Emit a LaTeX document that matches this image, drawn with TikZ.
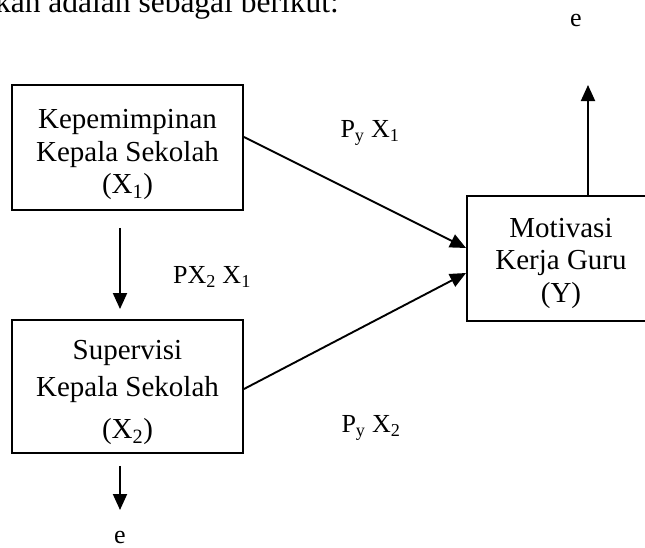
\documentclass[tikz,border=0pt]{standalone}
\usepackage{fontspec}
\setmainfont{Liberation Serif}
\usepackage{xcolor}
\usetikzlibrary{positioning,arrows.meta}

\begin{document}
\begin{tikzpicture}[x=1pt, y=-1pt,
  box/.style={draw, line width=1.9pt, minimum width=231pt, minimum height=125pt, align=center, inner sep=0pt, font=\fontsize{29}{32.5}\selectfont},
  arr/.style={-{Triangle[length=16pt,width=14pt]}, line width=1.9pt},
  lbl/.style={inner sep=0pt, font=\fontsize{26}{30}\selectfont}]
\useasboundingbox (0,0) rectangle (645,547);
\clip (0,0) rectangle (645,547);

\node[anchor=base east, inner sep=0pt, font=\fontsize{31.5}{36}\selectfont] (intro) at (339,12.5) {kan adalah sebagai berikut:};

\node[box] (kepemimpinan) at (127.5,147.5) {\rule{0pt}{34pt}Kepemimpinan\\Kepala Sekolah\\(X\textsubscript{1})};
\node[box, minimum height=133pt] (supervisi) at (127.5,386.5) {\rule{0pt}{32pt}Supervisi\\[4pt]Kepala Sekolah\\[10pt](X\textsubscript{2})};
\node[box, minimum width=188pt] (motivasi) at (561,258.5) {\rule{0pt}{29pt}Motivasi\\Kerja Guru\\(Y)};

\node[lbl] (eatas) at (576,20) {e};
\node[lbl] (ebawah) at (120,537) {e};
\coordinate (ytip) at (588,85);

\node[lbl] (py1) at (370,133) {P\textsubscript{y} X\textsubscript{1}};
\node[lbl] (py2) at (371,428) {P\textsubscript{y} X\textsubscript{2}};
\node[lbl] (px2x1) at (212,277) {PX\textsubscript{2} X\textsubscript{1}};

\draw[arr] ([yshift=10.5pt]kepemimpinan.east) -- ([yshift=10.5pt]motivasi.west);
\draw[arr] ([yshift=-2.5pt]supervisi.east) -- ([yshift=-14.5pt]motivasi.west);
\draw[arr] ([xshift=-7.5pt,yshift=-17pt]kepemimpinan.south) -- ([xshift=-7.5pt,yshift=10pt]supervisi.north);
\draw[arr] ([yshift=-12pt]supervisi.south -| ebawah) -- ([yshift=27pt]ebawah.center);
\draw[arr] (motivasi.north -| ytip) -- (ytip);

\end{tikzpicture}
\end{document}
